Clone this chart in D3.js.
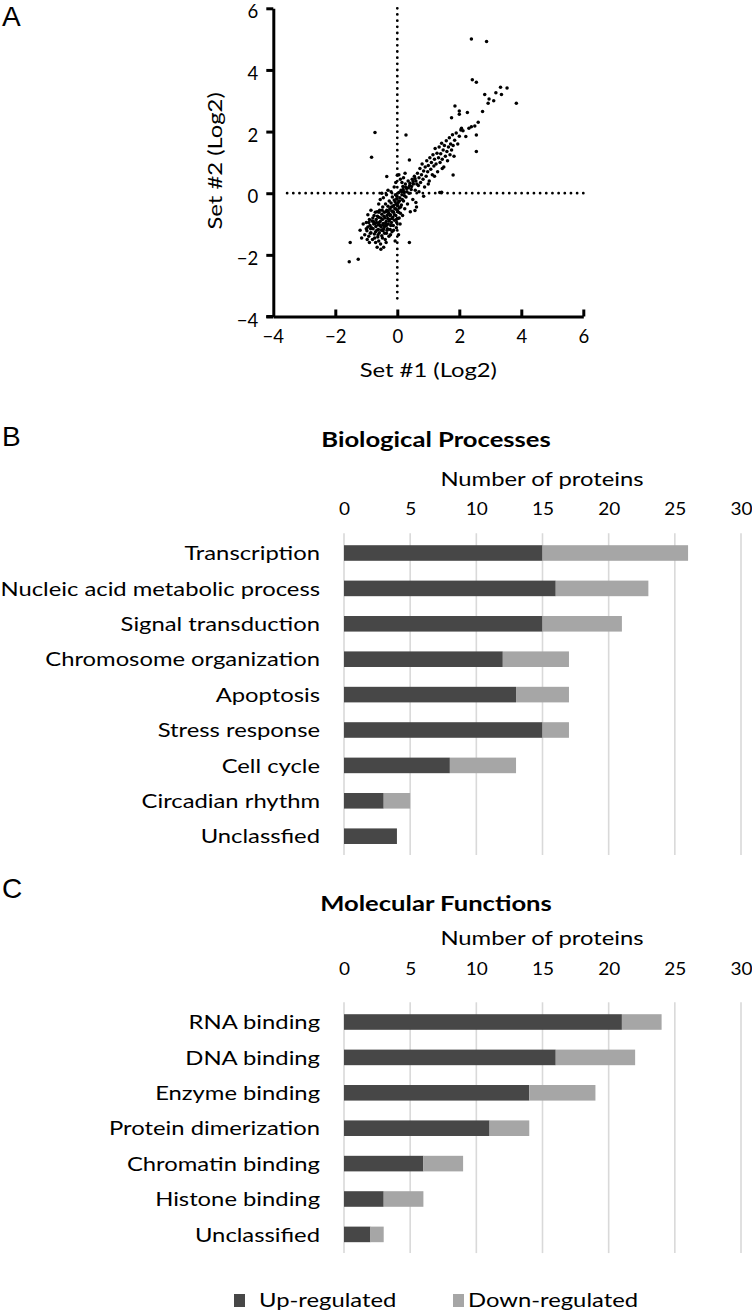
<!DOCTYPE html>
<html>
<head>
<meta charset="utf-8">
<script src="https://cdn.jsdelivr.net/npm/d3@7"></script>
<style>
  html, body { margin: 0; padding: 0; background: #fff; }
  svg { display: block; }
  text { font-family: Lato, "Open Sans", sans-serif; fill: #000; }
  .panel { font-family: "Liberation Sans", Arial, sans-serif; font-size: 28px; }
</style>
</head>
<body>
<svg id="chart" width="752" height="1315"></svg>
<script>
// ---------------- DATA ----------------
const scatterTicks = [-4, -2, 0, 2, 4, 6];
const scatterPoints = [
  // outliers / upper tail
  [2.39,5.0],[2.88,4.92],[2.42,3.68],[2.55,3.6],[3.33,3.44],[3.54,3.41],[3.18,3.26],[2.82,3.2],
  [3.36,3.2],[2.96,3.06],[3.11,3.0],[3.84,2.92],[2.93,2.92],[1.86,2.83],[2.0,2.67],[2.26,2.62],
  [2.0,2.56],[2.75,2.65],[1.75,2.45],[2.61,2.3],[2.39,2.16],[2.31,2.11],[2.5,2.18],[2.07,2.11],
  [2.12,2.03],[2.55,1.89],[2.21,1.84],[2.55,1.35],[-0.72,1.97],[0.28,1.89],[-0.83,1.17],[0.39,1.08],
  [-0.34,0.54],[1.37,0.02],[1.43,0.03],[1.8,0.59],[0.39,-1.6],[-1.52,-1.6],[-1.55,-2.22],[-1.26,-2.14],
  [-0.53,-1.82],
  // main band
  [-1.05,-1.35],[-0.98,-1.22],[-0.92,-1.4],[-0.88,-1.05],[-0.85,-1.28],[-0.82,-0.9],[-0.8,-1.5],[-0.78,-1.15],
  [-0.75,-0.72],[-0.74,-1.32],[-0.72,-0.98],[-0.7,-1.6],[-0.68,-0.85],[-0.66,-1.2],[-0.65,-0.6],[-0.63,-1.42],
  [-0.62,-1.02],[-0.6,-0.78],[-0.58,-1.28],[-0.57,-0.55],[-0.55,-0.92],[-0.54,-1.65],[-0.52,-1.1],[-0.5,-0.68],
  [-0.5,-1.38],[-0.48,-0.85],[-0.47,-0.45],[-0.46,-1.22],[-0.45,-0.98],[-0.44,-1.75],[-0.42,-0.62],[-0.41,-1.08],
  [-0.4,-0.8],[-0.39,-1.5],[-0.38,-0.35],[-0.36,-0.92],[-0.35,-1.3],[-0.34,-0.55],[-0.33,-0.72],[-0.32,-1.15],
  [-0.3,-0.42],[-0.29,-1.0],[-0.28,-0.65],[-0.27,-1.4],[-0.26,-0.25],[-0.25,-0.85],[-0.24,-0.5],[-0.23,-1.18],
  [-0.22,-0.7],[-0.2,-0.32],[-0.19,-0.95],[-0.18,-0.58],[-0.17,-1.25],[-0.16,-0.12],[-0.15,-0.78],[-0.14,-0.42],
  [-0.13,-1.05],[-0.12,-0.62],[-0.1,-0.22],[-0.09,-0.88],[-0.08,-0.5],[-0.07,-1.55],[-0.06,-0.05],[-0.05,-0.72],
  [-0.04,-0.35],[-0.03,-1.12],[-0.02,-0.18],[0.0,-0.55],[0.02,-0.82],[0.03,-0.3],[0.04,-1.35],[0.05,0.02],
  [0.06,-0.48],[0.08,-0.15],[0.09,-1.0],[0.1,-0.65],[0.12,0.1],[0.13,-0.38],[0.15,-0.05],[0.17,-0.72],
  [0.18,0.22],[0.2,-0.25],[0.22,0.05],[0.24,-0.5],[0.26,0.3],[0.28,-0.12],[0.3,0.15],[0.33,-0.35],
  [0.35,0.4],[0.38,0.0],[0.4,0.25],[0.42,-0.6],[0.45,0.12],[0.48,0.45],[0.5,-0.2],[0.52,0.3],
  [0.55,0.55],[0.58,0.1],[0.6,0.4],[0.62,-0.45],[0.65,0.65],[0.68,0.25],[0.7,0.5],[0.73,0.8],
  [0.75,0.35],[0.78,0.6],[0.8,0.95],[0.83,0.45],[0.85,0.72],[0.88,0.2],[0.9,0.85],[0.93,0.55],
  [0.95,1.05],[0.98,0.7],[1.0,0.9],[1.03,0.4],[1.05,1.15],[1.08,0.78],[1.1,1.0],[1.13,0.6],
  [1.15,1.25],[1.18,0.88],[1.2,1.1],[1.22,1.45],[1.25,0.95],[1.28,1.3],[1.3,0.7],[1.33,1.15],
  [1.35,1.5],[1.38,1.0],[1.4,1.28],[1.43,1.62],[1.45,1.1],[1.48,1.4],[1.5,0.85],[1.52,1.55],
  [1.55,1.2],[1.58,1.7],[1.6,1.35],[1.62,1.05],[1.65,1.5],[1.68,1.8],[1.7,1.25],[1.72,1.6],
  [1.75,1.4],[1.78,1.9],[1.8,1.55],[1.83,1.2],[1.85,1.72],[1.9,1.95],[1.95,1.6],[2.0,1.85],[2.05,2.05],
  [-1.2,-1.2],[-1.15,-1.45],[-1.1,-1.0],[-1.0,-0.95],[-0.95,-0.7],[-0.9,-1.6],[-0.85,-0.55],[-0.65,-1.75],
  [-0.6,-0.35],[-0.55,-0.2],[-0.5,0.0],[-0.45,-0.15],[-0.35,-0.05],[-0.3,0.1],[-0.2,0.05],[-0.1,0.2],
  [-0.05,0.35],[0.0,0.58],[0.05,0.6],[0.1,0.45],[0.15,0.35],[0.2,0.5],[0.25,0.65],
  [0.57,-0.56],[0.6,-0.3],[0.7,0.05],[0.85,-0.1],[1.0,0.3],[1.2,0.55],[1.45,0.8],
  [-0.95,-1.1],[-0.9,-0.85],[-0.87,-1.3],[-0.83,-1.12],[-0.79,-0.8],[-0.76,-1.0],[-0.73,-1.45],[-0.71,-0.62],
  [-0.69,-1.08],[-0.67,-0.95],[-0.64,-0.75],[-0.61,-1.18],[-0.59,-0.62],[-0.56,-1.05],[-0.53,-0.8],[-0.51,-1.2],
  [-0.49,-0.55],[-0.47,-1.02],[-0.43,-0.75],[-0.41,-1.3],[-0.37,-0.6],[-0.35,-1.05],[-0.31,-0.82],[-0.29,-0.58],
  [-0.27,-0.9],[-0.24,-0.72],[-0.21,-1.05],[-0.19,-0.45],[-0.17,-0.82],[-0.14,-0.6],[-0.11,-0.4],[-0.09,-0.7],
  [-0.07,-0.28],[-0.05,-0.5],[-0.03,-0.85],[-0.01,-0.1],[0.01,-0.4],[0.04,-0.62],[0.07,-0.25],[0.11,-0.45],
  [0.14,0.05],[0.16,-0.2],[0.19,0.12],[0.23,-0.08],[0.27,0.2],[0.31,0.05],[0.36,0.18],[0.41,0.32],
  [0.46,0.22],[0.51,0.38],[0.57,0.48],[0.63,0.3],[-0.62,-1.35],[-0.58,-0.95],[-0.44,-1.15],[-0.38,-0.98],
  [-0.33,-1.2],[-0.7,-1.25],[-0.77,-0.92],[-0.86,-1.15],[-0.92,-0.95],[-1.0,-1.15],[-0.97,-1.5],[-0.6,-1.55],
  [-0.48,-1.45],[-0.36,-1.6],[-0.22,-1.35],[-0.12,-1.2],[-0.02,-0.95],[0.06,-0.8]
];

const barTicks = [0, 5, 10, 15, 20, 25, 30];
const seriesNames = ["Up-regulated", "Down-regulated"];
const seriesColors = ["#474747", "#a6a6a6"];

const bpCategories = ["Transcription", "Nucleic acid metabolic process", "Signal transduction",
  "Chromosome organization", "Apoptosis", "Stress response", "Cell cycle", "Circadian rhythm", "Unclassfied"];
const bpUp   = [15, 16, 15, 12, 13, 15, 8, 3, 4];
const bpDown = [11, 7, 6, 5, 4, 2, 5, 2, 0];

const mfCategories = ["RNA binding", "DNA binding", "Enzyme binding", "Protein dimerization",
  "Chromatin binding", "Histone binding", "Unclassified"];
const mfUp   = [21, 16, 14, 11, 6, 3, 2];
const mfDown = [3, 6, 5, 3, 3, 3, 1];

// ---------------- DRAW ----------------
const svg = d3.select("#chart");
const fmtMinus = d => d < 0 ? "\u2212" + Math.abs(d) : String(d);
const WIDE = 1.19; // horizontal stretch of the reference's text

function wideText(parent, x, y, str, size, anchor, extra) {
  return parent.append("text")
    .attr("transform", `translate(${x},${y}) ${extra || ""} scale(${WIDE},1)`)
    .attr("text-anchor", anchor).attr("font-size", size).text(str);
}

// Panel A: scatter
{
  const x = d3.scaleLinear().domain([-4, 6]).range([273.3, 583.3]);
  const y = d3.scaleLinear().domain([-4, 6]).range([316.5, 8.3]);
  const g = svg.append("g");

  g.append("line").attr("x1", x(0)).attr("x2", x(0)).attr("y1", y(6)).attr("y2", y(-3.6))
    .attr("stroke", "#000").attr("stroke-width", 2.8).attr("stroke-linecap", "round")
    .attr("stroke-dasharray", "0 6.17");
  g.append("line").attr("x1", x(6)).attr("x2", x(-3.72)).attr("y1", y(0)).attr("y2", y(0))
    .attr("stroke", "#000").attr("stroke-width", 2.8).attr("stroke-linecap", "round")
    .attr("stroke-dasharray", "0 6.17");

  g.append("g").selectAll("circle").data(scatterPoints).join("circle")
    .attr("cx", d => x(d[0])).attr("cy", d => y(d[1])).attr("r", 1.75).attr("fill", "#000");

  const yAxis = g.append("g").attr("transform", `translate(${x(-4)},0)`)
    .call(d3.axisLeft(y).tickValues(scatterTicks).tickSize(7).tickSizeOuter(0).tickPadding(8).tickFormat(fmtMinus));
  const xAxis = g.append("g").attr("transform", `translate(0,${y(-4)})`)
    .call(d3.axisBottom(x).tickValues(scatterTicks.slice(1)).tickSize(-7).tickSizeOuter(0).tickPadding(13).tickFormat(fmtMinus));
  xAxis.append("text").attr("x", x(-4)).attr("y", 13).attr("dy", "0.71em")
    .attr("text-anchor", "middle").text(fmtMinus(-4));
  [yAxis, xAxis].forEach(a => {
    a.select(".domain").attr("stroke", "#000").attr("stroke-width", 3);
    a.selectAll(".tick line").attr("stroke", "#000").attr("stroke-width", 3);
    a.selectAll("text").attr("font-family", "Lato, sans-serif").attr("font-size", 18.5).attr("fill", "#000");
  });
  yAxis.selectAll(".tick text").attr("dy", "0.52em");
  g.append("line").attr("x1", x(-4) - 7).attr("x2", x(-4)).attr("y1", y(-4)).attr("y2", y(-4))
    .attr("stroke", "#000").attr("stroke-width", 3);

  wideText(g, (x(-4) + x(6)) / 2, 377, "Set #1 (Log2)", 20, "middle");
  wideText(g, 222, y(1.05), "Set #2 (Log2)", 20, "middle", "rotate(-90)");
  svg.append("text").attr("class", "panel").attr("x", 2).attr("y", 26).text("A");
}

// Stacked bar panels
function barPanel(opts) {
  const { cats, up, down, title, letter, letterY, titleY, axisTitleY, tickY, bandTop } = opts;
  const step = 35.4;
  const x = d3.scaleLinear().domain([0, 30]).range([344, 741]);
  const yb = d3.scaleBand().domain(cats).range([bandTop, bandTop + step * cats.length]).paddingInner(0.56).paddingOuter(0.28);
  const g = svg.append("g");

  svg.append("text").attr("class", "panel").attr("x", 2).attr("y", letterY).text(letter);
  g.append("text").attr("transform", `translate(436,${titleY}) scale(1.22,1)`).attr("text-anchor", "middle")
    .attr("font-size", 21).attr("font-weight", "bold").text(title);
  wideText(g, 542, axisTitleY, "Number of proteins", 20, "middle");

  g.append("g").selectAll("line").data(barTicks).join("line")
    .attr("x1", d => x(d)).attr("x2", d => x(d))
    .attr("y1", bandTop - 2).attr("y2", bandTop + step * cats.length + 1)
    .attr("stroke", "#d9d9d9").attr("stroke-width", 1.6);

  const ax = g.append("g").attr("transform", `translate(0,${tickY})`)
    .call(d3.axisTop(x).tickValues(barTicks).tickSize(0).tickPadding(0));
  ax.select(".domain").remove();
  ax.selectAll("text").attr("font-family", "Lato, sans-serif").attr("font-size", 17).attr("fill", "#000")
    .attr("transform", "scale(1.12,1)");

  const rows = cats.map((c, i) => ({ cat: c, up: up[i], down: down[i] }));
  const stack = d3.stack().keys(["up", "down"])(rows);
  g.append("g").selectAll("g").data(stack).join("g")
    .attr("fill", (d, i) => seriesColors[i])
    .selectAll("rect").data(d => d).join("rect")
    .attr("x", d => x(d[0])).attr("width", d => x(d[1]) - x(d[0]))
    .attr("y", d => yb(d.data.cat)).attr("height", yb.bandwidth());

  cats.forEach(c => {
    wideText(g, 320, yb(c) + yb.bandwidth() / 2, c, 20, "end").attr("dy", "0.36em");
  });
}

barPanel({ cats: bpCategories, up: bpUp, down: bpDown, title: "Biological Processes", letter: "B",
  letterY: 446, titleY: 447, axisTitleY: 486, tickY: 515, bandTop: 535.3 });
barPanel({ cats: mfCategories, up: mfUp, down: mfDown, title: "Molecular Functions", letter: "C",
  letterY: 898, titleY: 911, axisTitleY: 945, tickY: 975, bandTop: 1004.3 });

// Legend
{
  const lg = svg.append("g");
  const items = [{ x: 234, tx: 259 }, { x: 453, tx: 468 }];
  items.forEach((it, i) => {
    lg.append("rect").attr("x", it.x).attr("y", 1294).attr("width", 11).attr("height", 13).attr("fill", seriesColors[i]);
    wideText(lg, it.tx, 1300, seriesNames[i], 20, "start").attr("dy", "0.35em");
  });
}
</script>
</body>
</html>
